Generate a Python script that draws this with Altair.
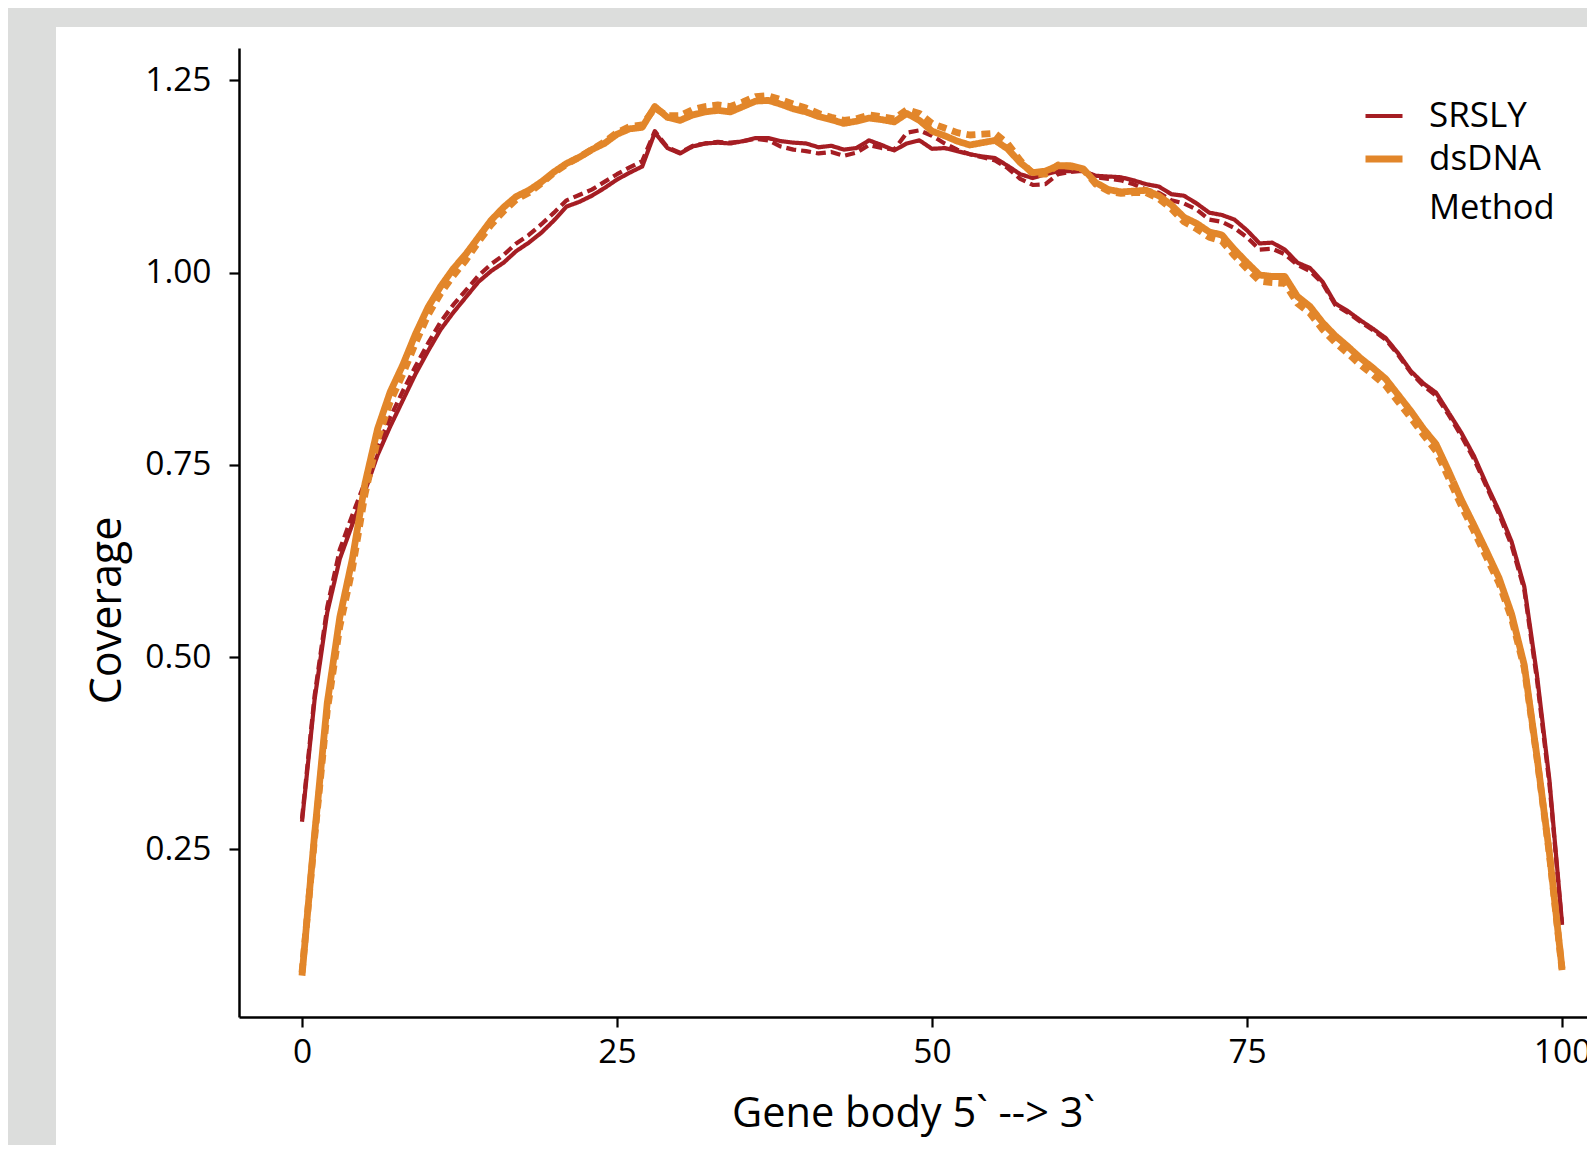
import altair as alt
import pandas as pd

# ---------------- data ----------------
gene_pos = list(range(101))

srsly_1 = [
    0.286, 0.445, 0.558, 0.628, 0.673, 0.716, 0.763, 0.800, 0.834, 0.868,
    0.898, 0.926, 0.948, 0.968, 0.988, 1.002, 1.013, 1.028, 1.039, 1.052,
    1.068, 1.086, 1.092, 1.100, 1.110, 1.121, 1.130, 1.138, 1.182, 1.162,
    1.155, 1.164, 1.168, 1.169, 1.168, 1.171, 1.175, 1.175, 1.171, 1.169,
    1.168, 1.163, 1.165, 1.160, 1.162, 1.172, 1.166, 1.159, 1.168, 1.172,
    1.161, 1.162, 1.158, 1.154, 1.151, 1.149, 1.139, 1.128, 1.123, 1.128,
    1.132, 1.132, 1.132, 1.126, 1.125, 1.124, 1.120, 1.115, 1.112, 1.102,
    1.100, 1.090, 1.078, 1.075, 1.069, 1.055, 1.038, 1.039, 1.030, 1.013,
    1.006, 0.988, 0.960, 0.950, 0.938, 0.927, 0.915, 0.895, 0.872, 0.856,
    0.844, 0.818, 0.792, 0.762, 0.725, 0.690, 0.650, 0.592, 0.478, 0.340,
    0.154,
]

srsly_2 = [
    0.290, 0.450, 0.565, 0.640, 0.685, 0.728, 0.773, 0.812, 0.846, 0.878,
    0.908, 0.936, 0.958, 0.977, 0.996, 1.011, 1.023, 1.038, 1.049, 1.063,
    1.078, 1.094, 1.101, 1.108, 1.118, 1.128, 1.137, 1.145, 1.184, 1.163,
    1.156, 1.165, 1.168, 1.170, 1.169, 1.171, 1.174, 1.172, 1.164, 1.160,
    1.158, 1.155, 1.157, 1.152, 1.156, 1.166, 1.162, 1.160, 1.182, 1.185,
    1.178, 1.168, 1.160, 1.154, 1.150, 1.146, 1.136, 1.122, 1.114, 1.115,
    1.128, 1.131, 1.133, 1.124, 1.122, 1.120, 1.115, 1.108, 1.104, 1.094,
    1.090, 1.082, 1.069, 1.066, 1.058, 1.046, 1.030, 1.031, 1.024, 1.010,
    1.002, 0.986, 0.958, 0.948, 0.936, 0.925, 0.913, 0.893, 0.870, 0.853,
    0.840, 0.815, 0.788, 0.758, 0.722, 0.686, 0.645, 0.588, 0.472, 0.335,
    0.152,
]

dsdna_1 = [
    0.086, 0.270, 0.440, 0.552, 0.628, 0.726, 0.797, 0.845, 0.880, 0.920,
    0.955, 0.982, 1.005, 1.024, 1.046, 1.068, 1.085, 1.099, 1.107, 1.118,
    1.131, 1.142, 1.150, 1.160, 1.168, 1.180, 1.187, 1.189, 1.216, 1.202,
    1.198, 1.205, 1.209, 1.211, 1.209, 1.216, 1.223, 1.224, 1.219, 1.213,
    1.209, 1.203, 1.199, 1.194, 1.197, 1.201, 1.199, 1.196, 1.207, 1.198,
    1.184, 1.178, 1.171, 1.166, 1.169, 1.172, 1.161, 1.143, 1.130, 1.132,
    1.139, 1.139, 1.135, 1.117, 1.108, 1.105, 1.106, 1.107, 1.100, 1.088,
    1.072, 1.064, 1.053, 1.049, 1.030, 1.013, 0.997, 0.995, 0.995, 0.969,
    0.956, 0.935, 0.918, 0.904, 0.889, 0.876, 0.862, 0.841, 0.820, 0.797,
    0.777, 0.742, 0.705, 0.672, 0.638, 0.603, 0.556, 0.490, 0.372, 0.245,
    0.095,
]

dsdna_2 = [
    0.090, 0.265, 0.430, 0.540, 0.615, 0.712, 0.783, 0.832, 0.868, 0.908,
    0.945, 0.973, 0.996, 1.016, 1.040, 1.062, 1.080, 1.095, 1.104, 1.116,
    1.130, 1.141, 1.150, 1.160, 1.170, 1.182, 1.190, 1.192, 1.214, 1.204,
    1.204, 1.212, 1.216, 1.218, 1.216, 1.222, 1.229, 1.230, 1.225, 1.219,
    1.214, 1.207, 1.202, 1.198, 1.200, 1.205, 1.203, 1.200, 1.212, 1.207,
    1.194, 1.188, 1.182, 1.179, 1.180, 1.181, 1.168, 1.146, 1.128, 1.128,
    1.140, 1.138, 1.134, 1.115, 1.106, 1.103, 1.104, 1.104, 1.096, 1.083,
    1.066, 1.057, 1.046, 1.041, 1.022, 1.005, 0.989, 0.987, 0.986, 0.960,
    0.947, 0.926, 0.909, 0.895, 0.880, 0.867, 0.853, 0.832, 0.811, 0.789,
    0.768, 0.733, 0.697, 0.664, 0.630, 0.596, 0.550, 0.486, 0.370, 0.243,
    0.093,
]

methods = ["SRSLY", "dsDNA"]
method_colors = ["#a51d23", "#e2862a"]
series_names = ["SRSLY_1", "SRSLY_2", "dsDNA_1", "dsDNA_2"]
x_ticks = [0, 25, 50, 75, 100]
y_ticks = [0.25, 0.50, 0.75, 1.00, 1.25]

rows = []
for name, method, vals in [
    ("SRSLY_1", "SRSLY", srsly_1),
    ("SRSLY_2", "SRSLY", srsly_2),
    ("dsDNA_1", "dsDNA", dsdna_1),
    ("dsDNA_2", "dsDNA", dsdna_2),
]:
    for xv, yv in zip(gene_pos, vals):
        rows.append({"pos": xv, "coverage": yv, "Method": method, "Series": name})
df = pd.DataFrame(rows)

# ---------------- layout ----------------
FONT = "Open Sans"
W, H = 1348, 969
PAD_TOP, PAD_BOTTOM = 40, 128
TOTAL_H = PAD_TOP + H + PAD_BOTTOM

panel = alt.Chart(pd.DataFrame({"k": [0]})).mark_rect(color="white").encode(
    x=alt.value(-183), x2=alt.value(W), y=alt.value(-21), y2=alt.value(TOTAL_H - PAD_TOP)
)

axis_common = dict(
    zindex=1,
    grid=False,
    domainColor="black",
    domainWidth=2.5,
    tickColor="black",
    tickWidth=2.2,
    tickSize=10,
    labelFont=FONT,
    labelFontSize=33.5,
    labelColor="black",
    titleFont=FONT,
    titleFontWeight="normal",
    titleColor="black",
)

lines = alt.Chart(df).mark_line(strokeJoin="round").encode(
    x=alt.X(
        "pos:Q",
        scale=alt.Scale(domain=[-5, 101.98], nice=False, zero=False),
        axis=alt.Axis(values=x_ticks, title="Gene body 5` --> 3`", format="d",
                      labelPadding=9, titlePadding=25, titleFontSize=41.5,
                      **axis_common),
    ),
    y=alt.Y(
        "coverage:Q",
        scale=alt.Scale(domain=[0.0322, 1.2921], nice=False, zero=False),
        axis=alt.Axis(values=y_ticks, format=".2f", title="Coverage",
                      labelPadding=18, titlePadding=15, titleFontSize=43,
                      titleY=562, **axis_common),
    ),
    color=alt.Color(
        "Method:N",
        scale=alt.Scale(domain=methods, range=method_colors),
        legend=alt.Legend(title=None),
    ),
    strokeWidth=alt.StrokeWidth(
        "Method:N",
        scale=alt.Scale(domain=methods, range=[4.2, 6.8]),
        legend=alt.Legend(title=None),
    ),
    strokeDash=alt.StrokeDash(
        "Series:N",
        scale=alt.Scale(domain=series_names, range=[[1, 0], [10, 5], [1, 0], [9, 6]]),
        legend=None,
    ),
)

legend_title = alt.Chart(pd.DataFrame({"k": [0]})).mark_text(
    align="left", baseline="middle", font=FONT, fontSize=34.5, color="black"
).encode(x=alt.value(1190), y=alt.value(161), text=alt.value("Method"))

chart = (
    alt.layer(panel, lines, legend_title)
    .properties(
        width=W,
        height=H,
        autosize=alt.AutoSizeParams(type="none"),
        padding={"left": 231, "top": PAD_TOP, "right": 0, "bottom": PAD_BOTTOM},
        background="#dcdddc",
    )
    .configure_view(stroke=None)
    .configure_legend(
        orient="none",
        legendX=1123,
        legendY=47,
        symbolType="stroke",
        symbolSize=1369,
        labelFont=FONT,
        labelFontSize=35,
        labelColor="black",
        labelOffset=23,
        rowPadding=3,
        padding=0,
        zindex=1,
    )
)

chart.save("out.html", embed_options={"renderer": "svg", "actions": False})
